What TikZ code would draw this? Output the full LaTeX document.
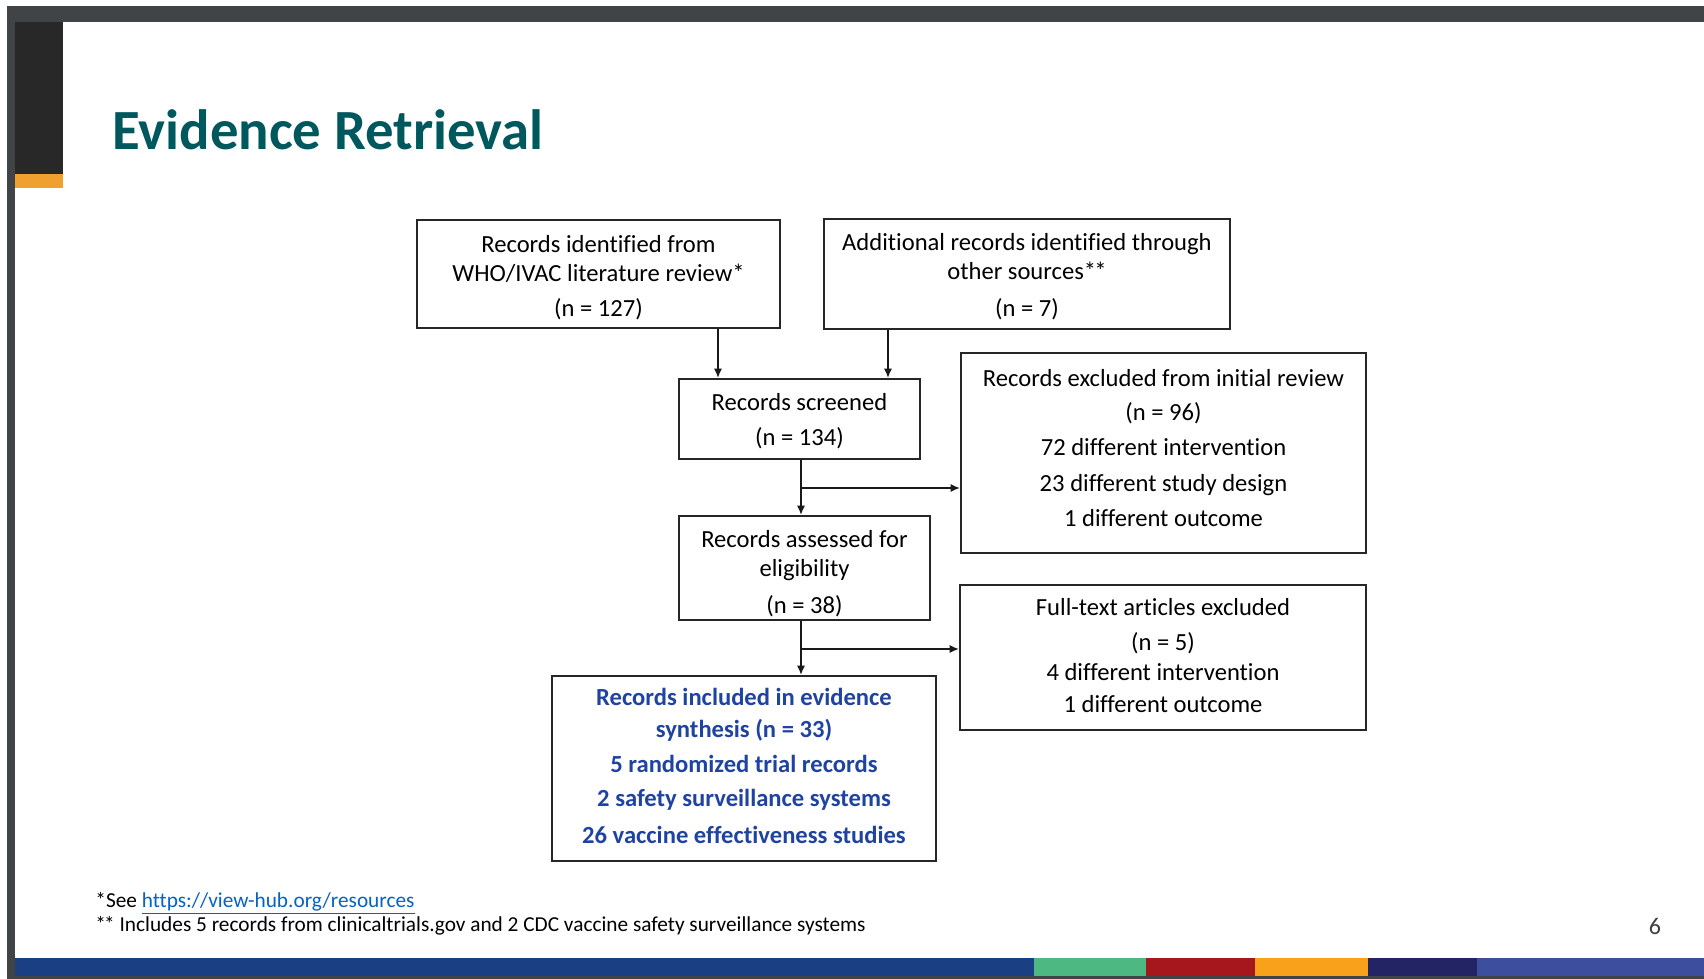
\documentclass[tikz,border=0pt]{standalone}
\usepackage{fontspec}
\setmainfont{Carlito}[Ligatures={NoCommon}]
\usetikzlibrary{arrows.meta,calc}
\definecolor{framegray}{HTML}{404447}
\definecolor{blockblack}{HTML}{282828}
\definecolor{accentorange}{HTML}{F0A02E}
\definecolor{titleteal}{HTML}{00585F}
\definecolor{resultblue}{HTML}{1F43A0}
\definecolor{linkblue}{HTML}{0563C1}
\definecolor{pagegray}{HTML}{404040}
\definecolor{barblue}{HTML}{1A3F83}
\definecolor{bargreen}{HTML}{4DB882}
\definecolor{barred}{HTML}{A6161D}
\definecolor{barorange}{HTML}{F9A11B}
\definecolor{barnavy}{HTML}{232464}
\definecolor{barindigo}{HTML}{3D4E9F}
\newcommand{\tstrut}[1]{\rule{0pt}{#1}}
\newcommand{\bstrut}[1]{\rule[-#1]{0pt}{#1}}
\newcommand{\dstar}{*\kern-0.9pt*}
\begin{document}
\begin{tikzpicture}[x=0.5pt,y=-0.5pt,
  flowbox/.style={draw=black!85,line width=0.9pt,rectangle,inner sep=0pt,align=center,
    font=\fontsize{12.3}{14.7}\selectfont},
  resultbox/.style={flowbox,text=resultblue,font=\fontsize{12.3}{14.7}\selectfont\bfseries},
  flowarrow/.style={line width=0.95pt,draw=black!90,-{Latex[length=4.8pt,width=4.2pt]}},
  footnote/.style={anchor=base west,font=\fontsize{10.65}{12.5}\selectfont,inner sep=0pt}]
\useasboundingbox (0,0) rectangle (1704,979);
\fill[white] (0,0) rectangle (1704,979);
% frame
\fill[framegray] (7,6) rectangle (1704,22);
\fill[framegray] (7,6) rectangle (15,979);
\fill[blockblack] (15,22) rectangle (63,174);
\fill[accentorange] (15,174) rectangle (63,188);
\fill[barblue] (15,958) rectangle (1034,976);
\fill[bargreen] (1034,958) rectangle (1146,976);
\fill[barred] (1146,958) rectangle (1255,976);
\fill[barorange] (1255,958) rectangle (1368,976);
\fill[barnavy] (1368,958) rectangle (1477,976);
\fill[barindigo] (1477,958) rectangle (1704,976);
\fill[framegray] (7,976) rectangle (1704,979);
% title
\node[anchor=base west,inner sep=0pt,text=titleteal,font=\fontsize{28.4}{34}\selectfont\bfseries] (title) at (112,150) {Evidence Retrieval};
% boxes
\node[flowbox,minimum width=181.5pt,minimum height=54.25pt] (B1) at (598.5,274)
  {\tstrut{11.9pt}Records identified from\\WHO/IVAC literature review*\\[2.7pt](n = 127)};
\node[flowbox,minimum width=203pt,minimum height=54.75pt] (B2) at (1027,274)
  {\tstrut{11.3pt}Additional records identified through\\other sources\dstar\\[3.7pt](n = 7)};
\node[flowbox,minimum width=120.5pt,minimum height=40pt] (B3) at (799.5,419)
  {\tstrut{10.8pt}Records screened\\[2.7pt](n = 134)};
\node[flowbox,minimum width=202.5pt,minimum height=100pt] (B4) at (1163.5,453)
  {Records excluded from initial review\\[2.7pt](n = 96)\\[2.7pt]72 different intervention\\[3.2pt]23 different study design\\[2.7pt]1 different outcome\bstrut{5.4pt}};
\node[flowbox,minimum width=125.5pt,minimum height=52pt] (B5) at (804.5,568)
  {\tstrut{14pt}Records assessed for\\eligibility\\[3.8pt](n = 38)};
\node[flowbox,minimum width=203pt,minimum height=72.5pt] (B6) at (1163,657.5)
  {Full-text articles excluded\\[2.7pt](n = 5)\\[0.5pt]4 different intervention\\[1pt]1 different outcome\bstrut{2.2pt}};
\node[resultbox,minimum width=192pt,minimum height=92.5pt] (B7) at (744,768.5)
  {Records included in evidence\\[1pt]synthesis (n = 33)\\[2.7pt]5 randomized trial records\\[2.7pt]2 safety surveillance systems\\[3.8pt]26 vaccine effectiveness studies\bstrut{2.2pt}};
% connectors
\coordinate (c1) at (718,0);
\coordinate (c2) at (888,0);
\coordinate (c3) at (801,488);
\coordinate (c4) at (801,649);
\draw[flowarrow] (B1.south -| c1) -- (B3.north -| c1);
\draw[flowarrow] (B2.south -| c2) -- (B3.north -| c2);
\draw[flowarrow] (B3.south -| c3) -- (B5.north -| c3);
\draw[flowarrow] (c3) -- (B4.west |- c3);
\draw[flowarrow] (B5.south -| c4) -- (B7.north -| c4);
\draw[flowarrow] (c4) -- (B6.west |- c4);
% footnotes
\node[footnote] (fn1) at (95,907) {*See \textcolor{linkblue}{\underline{https://view-hub.org/resources}}};
\node[footnote] (fn2) at (95,931) {\dstar{} Includes 5 records from clinicaltrials.gov and 2 CDC vaccine safety surveillance systems};
\node[font=\fontsize{12}{14}\selectfont,text=pagegray,inner sep=0pt] (page) at (1655,926) {6};
\end{tikzpicture}
\end{document}
